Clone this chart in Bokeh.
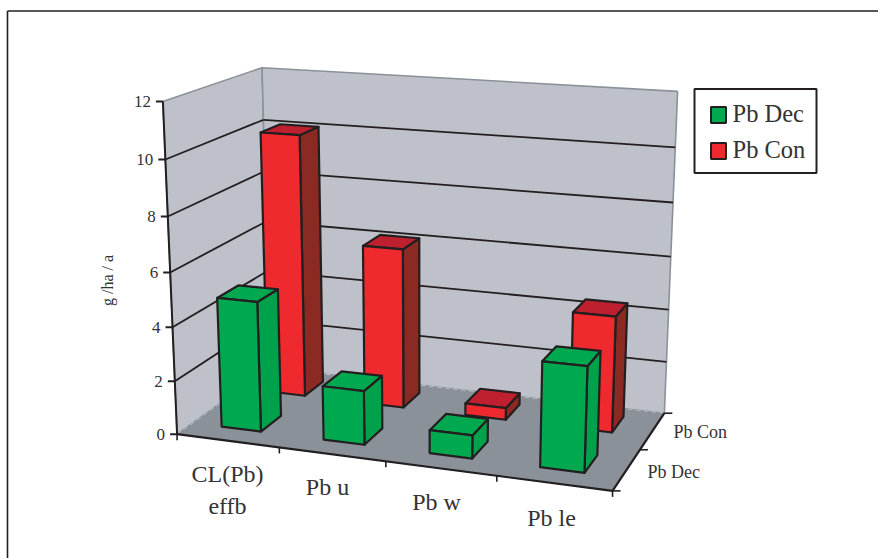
import numpy as np
from bokeh.plotting import figure
from bokeh.embed import file_html
from bokeh.resources import INLINE
from bokeh.core.properties import value

categories = ["CL(Pb)\neffb", "Pb u", "Pb w", "Pb le"]
series_names = ["Pb Dec", "Pb Con"]
pb_dec = [4.85, 2.0, 0.85, 3.8]
pb_con = [10.05, 6.1, 0.45, 4.35]
y_ticks = [0, 2, 4, 6, 8, 10, 12]

INK = "#231F20"
WALL = "#BEC1C9"
FLOOR = "#8A9199"
COLORS = {
    "Pb Dec": dict(front="#00A94F", top="#00A94F", side="#00A14B"),
    "Pb Con": dict(front="#EE2A2E", top="#BE2030", side="#8A2A22"),
}

# camera calibration: (category, series, value) box corners to page pixels
world = np.array([(0, 0, 0), (4, 0, 0), (4, 2, 0), (0, 2, 0),
                  (0, 0, 12), (0, 2, 12), (4, 2, 12)], float)
page = np.array([(177, 433), (612, 491), (664, 412), (269, 368),
                 (162, 101), (262, 67), (677, 91)], float)
rows, rhs = [], []
for (a, b, c), (u, v) in zip(world, page):
    rows.append([a, b, c, 1, 0, 0, 0, 0, -u*a, -u*b, -u*c]); rhs.append(u)
    rows.append([0, 0, 0, 0, a, b, c, 1, -v*a, -v*b, -v*c]); rhs.append(v)
M = np.append(np.linalg.lstsq(np.array(rows), np.array(rhs), rcond=None)[0], 1).reshape(3, 4)


def P(a, b, c):
    h = M @ np.array([a, b, c, 1.0])
    return h[0] / h[2], h[1] / h[2]


def poly(pts, **kw):
    xy = [P(*q) for q in pts]
    p.patch([q[0] for q in xy], [q[1] for q in xy], **kw)


def seg(q0, q1, color=INK, width=1.6, **kw):
    a, b = P(*q0), P(*q1)
    p.line([a[0], b[0]], [a[1], b[1]], line_color=color, line_width=width, **kw)


p = figure(width=878, height=558, x_range=(0, 878), y_range=(558, 0),
           output_backend="svg", toolbar_location=None, min_border=0,
           outline_line_color=None)
p.axis.visible = False
p.grid.visible = False
p.background_fill_color = "white"

# page frame
p.line([7, 7], [558, 10.5], line_color=INK, line_width=1.6)
p.line([7, 878], [10.5, 10.5], line_color=INK, line_width=1.6)

# walls and floor
edge = dict(line_color=FLOOR, line_width=1.6)
poly([(0, 0, 0), (0, 2, 0), (0, 2, 12), (0, 0, 12)], fill_color=WALL, **edge)
poly([(0, 2, 0), (4, 2, 0), (4, 2, 12), (0, 2, 12)], fill_color=WALL, **edge)
poly([(0, 0, 0), (4, 0, 0), (4, 2, 0), (0, 2, 0)], fill_color=FLOOR, line_color=FLOOR)
seg((0, 2, 0), (4, 2, 0), color=WALL, width=1, line_dash="5 3")
seg((0, 0, 0), (0, 2, 0), color=WALL, width=1, line_dash="5 3")

# grid lines
for t in y_ticks[1:-1]:
    seg((0, 0, t), (0, 2, t), width=1.8)
    seg((0, 2, t), (4, 2, t), width=1.8)

# axes
seg((0, 0, 0), (0, 0, 12), width=2)
seg((0, 0, 0), (4, 0, 0), width=2.2)
seg((4, 0, 0), (4, 2, 0), width=2.2)
for t in y_ticks:
    x0, y0 = P(0, 0, t)
    p.line([x0 - 7, x0], [y0, y0], line_color=INK, line_width=2)
    p.text([x0 - 12], [y0], text=[str(t)], text_align="right", text_baseline="middle",
           text_font=value("Liberation Serif"), text_font_size="17px", text_color="#333333")
for i in range(len(categories) + 1):
    x0, y0 = P(i, 0, 0)
    p.line([x0, x0], [y0, y0 + 6], line_color=INK, line_width=1.6)
for s in range(len(series_names) + 1):
    x0, y0 = P(4, s, 0)
    p.line([x0, x0 + 8], [y0, y0], line_color=INK, line_width=1.6)

# bars, back series first
BAR_X = {0: (0.29, 0.68), 1: (0.275, 0.665)}
BAR_S = {0: (0.31, 0.75), 1: (0.34, 0.78)}
bar_edge = dict(line_color=INK, line_width=2.2, line_join="round")
for s, name, vals in [(1, series_names[1], pb_con), (0, series_names[0], pb_dec)]:
    c = COLORS[name]
    for i, v in enumerate(vals):
        x0, x1 = i + BAR_X[s][0], i + BAR_X[s][1]
        s0, s1 = s + BAR_S[s][0], s + BAR_S[s][1]
        poly([(x1, s0, 0), (x1, s1, 0), (x1, s1, v), (x1, s0, v)], fill_color=c["side"], **bar_edge)
        poly([(x0, s0, v), (x1, s0, v), (x1, s1, v), (x0, s1, v)], fill_color=c["top"], **bar_edge)
        poly([(x0, s0, 0), (x1, s0, 0), (x1, s0, v), (x0, s0, v)], fill_color=c["front"], **bar_edge)

serif = value("Liberation Serif")
cat_label_pos = [(227, 473), (327, 486), (436, 501), (551, 517)]
for lab, (x0, y0) in zip(categories, cat_label_pos):
    for k, part in enumerate(lab.split("\n")):
        p.text([x0], [y0 + 32 * k], text=[part], text_align="center", text_baseline="middle",
               text_font=serif, text_font_size="24px", text_color="#333333")
for name, (x0, y0) in zip(series_names, [(647, 471), (673, 431)]):
    p.text([x0], [y0], text=[name], text_align="left", text_baseline="middle",
           text_font=serif, text_font_size="18px", text_color="#333333")
p.text([107], [280], text=["g /ha / a"], angle=np.pi / 2, text_align="center", text_baseline="middle",
       text_font=serif, text_font_size="16px", text_color="#333333")

# legend
p.quad(left=[694], right=[816], top=[88.5], bottom=[172.5], fill_color="white",
       line_color=INK, line_width=2)
for name, yc in zip(series_names, [114.5, 150.5]):
    p.quad(left=[710.5], right=[725.5], top=[yc - 8], bottom=[yc + 8],
           fill_color=COLORS[name]["front"], line_color=INK, line_width=2)
    p.text([732], [yc - 1.5], text=[name], text_align="left", text_baseline="middle",
           text_font=serif, text_font_size="24.5px", text_color="#333333")

open("out.html", "w").write(file_html(p, INLINE))
